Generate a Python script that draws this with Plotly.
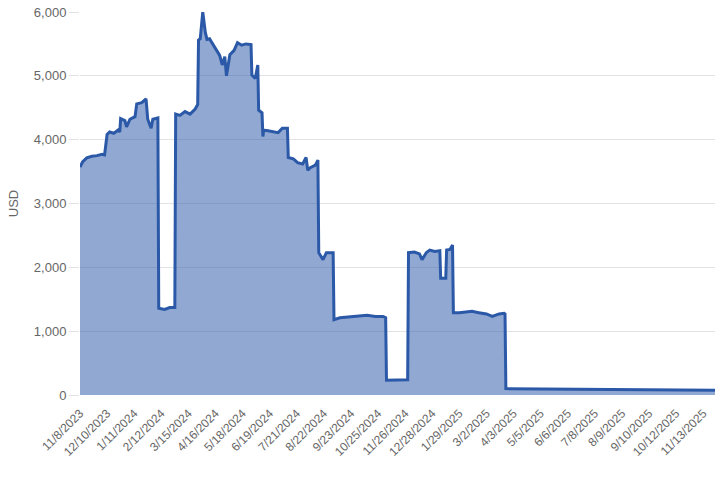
import plotly.graph_objects as go

dates = [
    "2023-11-08", "2023-11-11", "2023-11-16", "2023-11-22", "2023-11-28", "2023-12-04", "2023-12-07",
    "2023-12-10", "2023-12-13", "2023-12-18", "2023-12-23", "2023-12-25", "2023-12-26", "2023-12-31",
    "2024-01-02", "2024-01-06", "2024-01-12", "2024-01-14", "2024-01-20", "2024-01-25", "2024-01-27",
    "2024-01-31", "2024-02-02", "2024-02-08", "2024-02-09", "2024-02-16", "2024-02-22", "2024-02-28",
    "2024-02-29", "2024-03-05", "2024-03-11", "2024-03-17", "2024-03-23", "2024-03-26", "2024-03-27",
    "2024-03-29", "2024-04-01", "2024-04-04", "2024-04-06", "2024-04-09", "2024-04-15", "2024-04-21",
    "2024-04-24", "2024-04-27", "2024-04-29", "2024-05-03", "2024-05-08", "2024-05-12", "2024-05-17",
    "2024-05-22", "2024-05-28", "2024-05-29", "2024-06-02", "2024-06-05", "2024-06-06", "2024-06-10",
    "2024-06-11", "2024-06-12", "2024-06-17", "2024-06-23", "2024-06-29", "2024-07-04", "2024-07-10",
    "2024-07-11", "2024-07-17", "2024-07-22", "2024-07-28", "2024-08-01", "2024-08-03", "2024-08-06",
    "2024-08-12", "2024-08-15", "2024-08-16", "2024-08-21", "2024-08-25", "2024-09-02", "2024-09-03",
    "2024-09-10", "2024-09-18", "2024-09-28", "2024-10-12", "2024-10-22", "2024-10-31", "2024-11-03",
    "2024-11-04", "2024-11-16", "2024-11-29", "2024-11-30", "2024-12-07", "2024-12-13", "2024-12-16",
    "2024-12-21", "2024-12-25", "2024-12-31", "2025-01-06", "2025-01-07", "2025-01-13", "2025-01-14",
    "2025-01-18", "2025-01-21", "2025-01-22", "2025-01-29", "2025-02-05", "2025-02-13", "2025-02-21",
    "2025-03-02", "2025-03-09", "2025-03-17", "2025-03-23", "2025-03-24", "2025-03-25", "2025-05-01",
    "2025-07-01", "2025-09-01", "2025-11-27",
]
usd = [
    3570, 3650, 3714, 3740, 3750, 3770, 3760,
    4080, 4120, 4100, 4150, 4120, 4330, 4300,
    4200, 4320, 4360, 4560, 4580, 4640, 4320,
    4180, 4320, 4340, 1360, 1340, 1370, 1370,
    4400, 4380, 4440, 4400, 4480, 4550, 5560,
    5580, 6000, 5680, 5570, 5580, 5450, 5320,
    5170, 5300, 5000, 5330, 5400, 5520, 5480,
    5500, 5490, 5010, 4960, 5170, 4460, 4420,
    4050, 4150, 4140, 4130, 4110, 4180, 4180,
    3720, 3700, 3640, 3620, 3720, 3520, 3560,
    3600, 3680, 2230, 2120, 2230, 2230, 1180,
    1210, 1220, 1240, 1250, 1230, 1230, 1210,
    230, 235, 240, 2230, 2240, 2210, 2120,
    2230, 2270, 2250, 2260, 1830, 1830, 2270,
    2280, 2350, 1290, 1290, 1300, 1310, 1290,
    1270, 1230, 1270, 1280, 1270, 100, 95,
    90, 85, 75,
]

fig = go.Figure()
fig.add_trace(go.Scatter(
    x=dates, y=usd,
    mode='lines',
    line=dict(color='#2b59a8', width=3),
    fill='tozeroy',
    fillcolor='rgba(43, 89, 168, 0.52)',
    showlegend=False
))

fig.update_layout(
    width=720, height=480,
    paper_bgcolor='white',
    plot_bgcolor='white',
    margin=dict(l=80, r=5, t=12, b=85),
    font=dict(family='Liberation Sans, Arial, sans-serif', size=13, color='#666'),
    xaxis=dict(
        type='date', automargin=False,
        range=['2023-11-08', '2025-11-27'],
        tick0='2023-11-08', dtick=32 * 86400000,
        tickformat='%-m/%-d/%Y', tickangle=-45,
        ticklabelstandoff=8,
        showgrid=False, zeroline=False, showline=False,
        tickfont=dict(size=12, color='#666'),
    ),
    yaxis=dict(
        automargin=False,
        range=[0, 6000], tickvals=[0, 1000, 2000, 3000, 4000, 5000, 6000],
        tickformat=',d',
        showgrid=True, gridcolor='#e3e3e3', zeroline=False,
        ticks='outside', ticklen=10, tickcolor='#e3e3e3',
        tickfont=dict(size=13, color='#666'),
        title=dict(text='USD', font=dict(size=13, color='#666'), standoff=12),
    ),
)

# drop the page's default body margin so the figure sits at the window's corner
fig.write_html("out.html", config={'displayModeBar': False},
               post_script="document.body.style.margin = '0';")
